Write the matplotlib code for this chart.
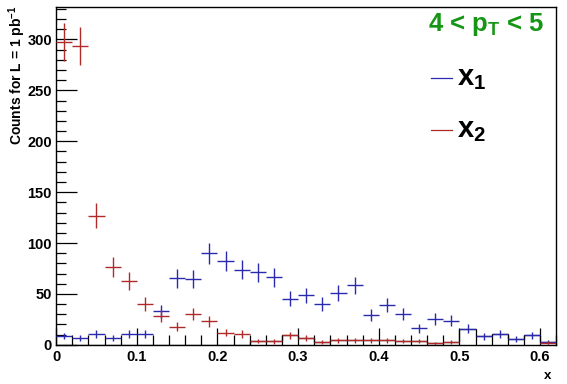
import numpy as np
import matplotlib
matplotlib.use("Agg")
import matplotlib.pyplot as plt
from matplotlib.ticker import MultipleLocator

plt.rcParams['font.family'] = ['Liberation Sans', 'DejaVu Sans']
plt.rcParams['mathtext.fontset'] = 'custom'
plt.rcParams['mathtext.rm'] = 'Liberation Sans:bold'
plt.rcParams['mathtext.it'] = 'Liberation Sans:bold'
plt.rcParams['mathtext.bf'] = 'Liberation Sans:bold'
plt.rcParams['mathtext.default'] = 'rm'

# bin centres (width 0.02)
x_centers = [0.01, 0.03, 0.05, 0.07, 0.09, 0.11, 0.13, 0.15, 0.17, 0.19,
             0.21, 0.23, 0.25, 0.27, 0.29, 0.31, 0.33, 0.35, 0.37, 0.39,
             0.41, 0.43, 0.45, 0.47, 0.49, 0.51, 0.53, 0.55, 0.57, 0.59, 0.61]
bin_edges = [0.00, 0.02, 0.04, 0.06, 0.08, 0.10, 0.12, 0.14, 0.16, 0.18,
             0.20, 0.22, 0.24, 0.26, 0.28, 0.30, 0.32, 0.34, 0.36, 0.38,
             0.40, 0.42, 0.44, 0.46, 0.48, 0.50, 0.52, 0.54, 0.56, 0.58,
             0.60, 0.62]
bin_width = 0.02

x1_vals = [8.8, 6.6, 10.5, 6.6, 10.5, 10.8, 32.8, 65.2, 64.6, 90.1,
           82.6, 73.7, 71.5, 66.2, 45.2, 48.5, 40.0, 50.8, 58.3, 29.5,
           39.3, 30.2, 16.4, 25.3, 23.6, 15.7, 8.2, 10.5, 5.9, 9.5, 2.6]
x1_errs = [3.3, 2.8, 3.6, 2.8, 3.6, 3.6, 6.3, 8.9, 8.8, 10.4,
           10.0, 9.4, 9.3, 8.9, 7.4, 7.7, 7.0, 7.8, 8.4, 6.0,
           6.9, 6.0, 4.5, 5.5, 5.3, 4.4, 3.2, 3.6, 2.7, 3.4, 1.8]

x2_vals = [297.6, 293.7, 127.0, 76.4, 62.6, 40.3, 28.5, 18.0, 30.5, 23.0,
           12.0, 10.8, 4.0, 3.3, 9.2, 6.6, 2.6, 4.3, 4.3, 4.3,
           4.3, 4.0, 4.0, 1.6, 2.6, 0.0, 0.0, 0.0, 0.0, 0.0, 2.0]
x2_errs = [19.0, 18.8, 12.2, 9.6, 8.7, 7.0, 5.9, 4.7, 6.1, 5.3,
           3.8, 3.6, 2.2, 2.0, 3.3, 2.8, 1.8, 2.3, 2.3, 2.3,
           2.3, 2.2, 2.2, 1.4, 1.8, 0.0, 0.0, 0.0, 0.0, 0.0, 1.6]

# black outline histogram (mostly hidden under the error bars)
other_vals = [0.0, 0.0, 0.0, 0.0, 0.0, 0.0, 0.0, 0.0, 0.0, 0.0,
              0.0, 0.0, 4.0, 3.3, 9.2, 6.6, 2.6, 4.3, 4.3, 4.3,
              4.3, 4.0, 4.0, 1.6, 2.6, 15.7, 8.2, 10.5, 5.9, 9.5, 2.6]

x_ticks = [0, 0.1, 0.2, 0.3, 0.4, 0.5, 0.6]
x_tick_labels = ['0', '0.1', '0.2', '0.3', '0.4', '0.5', '0.6']
y_ticks = [0, 50, 100, 150, 200, 250, 300]

blue = '#2a2aae'
red = '#b02a2a'
green = '#149614'

fig = plt.figure(figsize=(5.67, 3.84), dpi=100)
ax = fig.add_axes([0.099, 0.102, 0.882, 0.880])

ax.stairs(other_vals, bin_edges, baseline=None, color='black',
          linewidth=0.9, zorder=1)

def draw(vals, errs, color):
    xs, vs, es = [], [], []
    for c, v, e in zip(x_centers, vals, errs):
        if v > 0:
            xs.append(c); vs.append(v); es.append(e)
    ax.errorbar(xs, vs, xerr=bin_width / 2, yerr=es, fmt='none',
                ecolor=color, elinewidth=1.0, capsize=0, zorder=3)

draw(x1_vals, x1_errs, blue)
draw(x2_vals, x2_errs, red)

ax.set_xlim(0, 0.62)
ax.set_ylim(0, 332)
ax.set_xticks(x_ticks)
ax.set_xticklabels(x_tick_labels)
ax.set_yticks(y_ticks)
ax.xaxis.set_minor_locator(MultipleLocator(0.02))
ax.yaxis.set_minor_locator(MultipleLocator(10))
ax.tick_params(which='both', direction='in', top=False, right=False,
               labelsize=10.5, width=0.9)
ax.tick_params(axis='x', which='major', length=12)
ax.tick_params(axis='y', which='major', length=15)
ax.tick_params(which='minor', length=7)
ax.tick_params(axis='x', pad=4)
ax.tick_params(axis='y', pad=3)
for lab in ax.get_xticklabels() + ax.get_yticklabels():
    lab.set_fontweight('bold')
for sp in ax.spines.values():
    sp.set_linewidth(1.0)

ax.set_ylabel(r'Counts for L = 1 pb$^{-1}$', fontsize=10, fontweight='bold')
ax.yaxis.set_label_coords(-0.078, 1.005)
ax.yaxis.label.set_horizontalalignment('right')
ax.yaxis.label.set_verticalalignment('center')
ax.set_xlabel('x', fontsize=9.5, fontweight='bold')
ax.xaxis.set_label_coords(0.99, -0.092)
ax.xaxis.label.set_horizontalalignment('right')
ax.xaxis.label.set_verticalalignment('center')

ax.text(0.977, 0.948, r'4 < p$_T$ < 5', transform=ax.transAxes, color=green,
        fontsize=18.5, fontweight='bold', ha='right', va='center')

# legend
ax.plot([0.750, 0.792], [0.79, 0.79], transform=ax.transAxes, color=blue, lw=0.9)
ax.text(0.802, 0.79, r'x$_1$', transform=ax.transAxes, fontsize=21,
        fontweight='bold', ha='left', va='center')
ax.plot([0.750, 0.792], [0.635, 0.635], transform=ax.transAxes, color=red, lw=0.9)
ax.text(0.802, 0.635, r'x$_2$', transform=ax.transAxes, fontsize=21,
        fontweight='bold', ha='left', va='center')

fig.savefig('out.png', dpi=100)
